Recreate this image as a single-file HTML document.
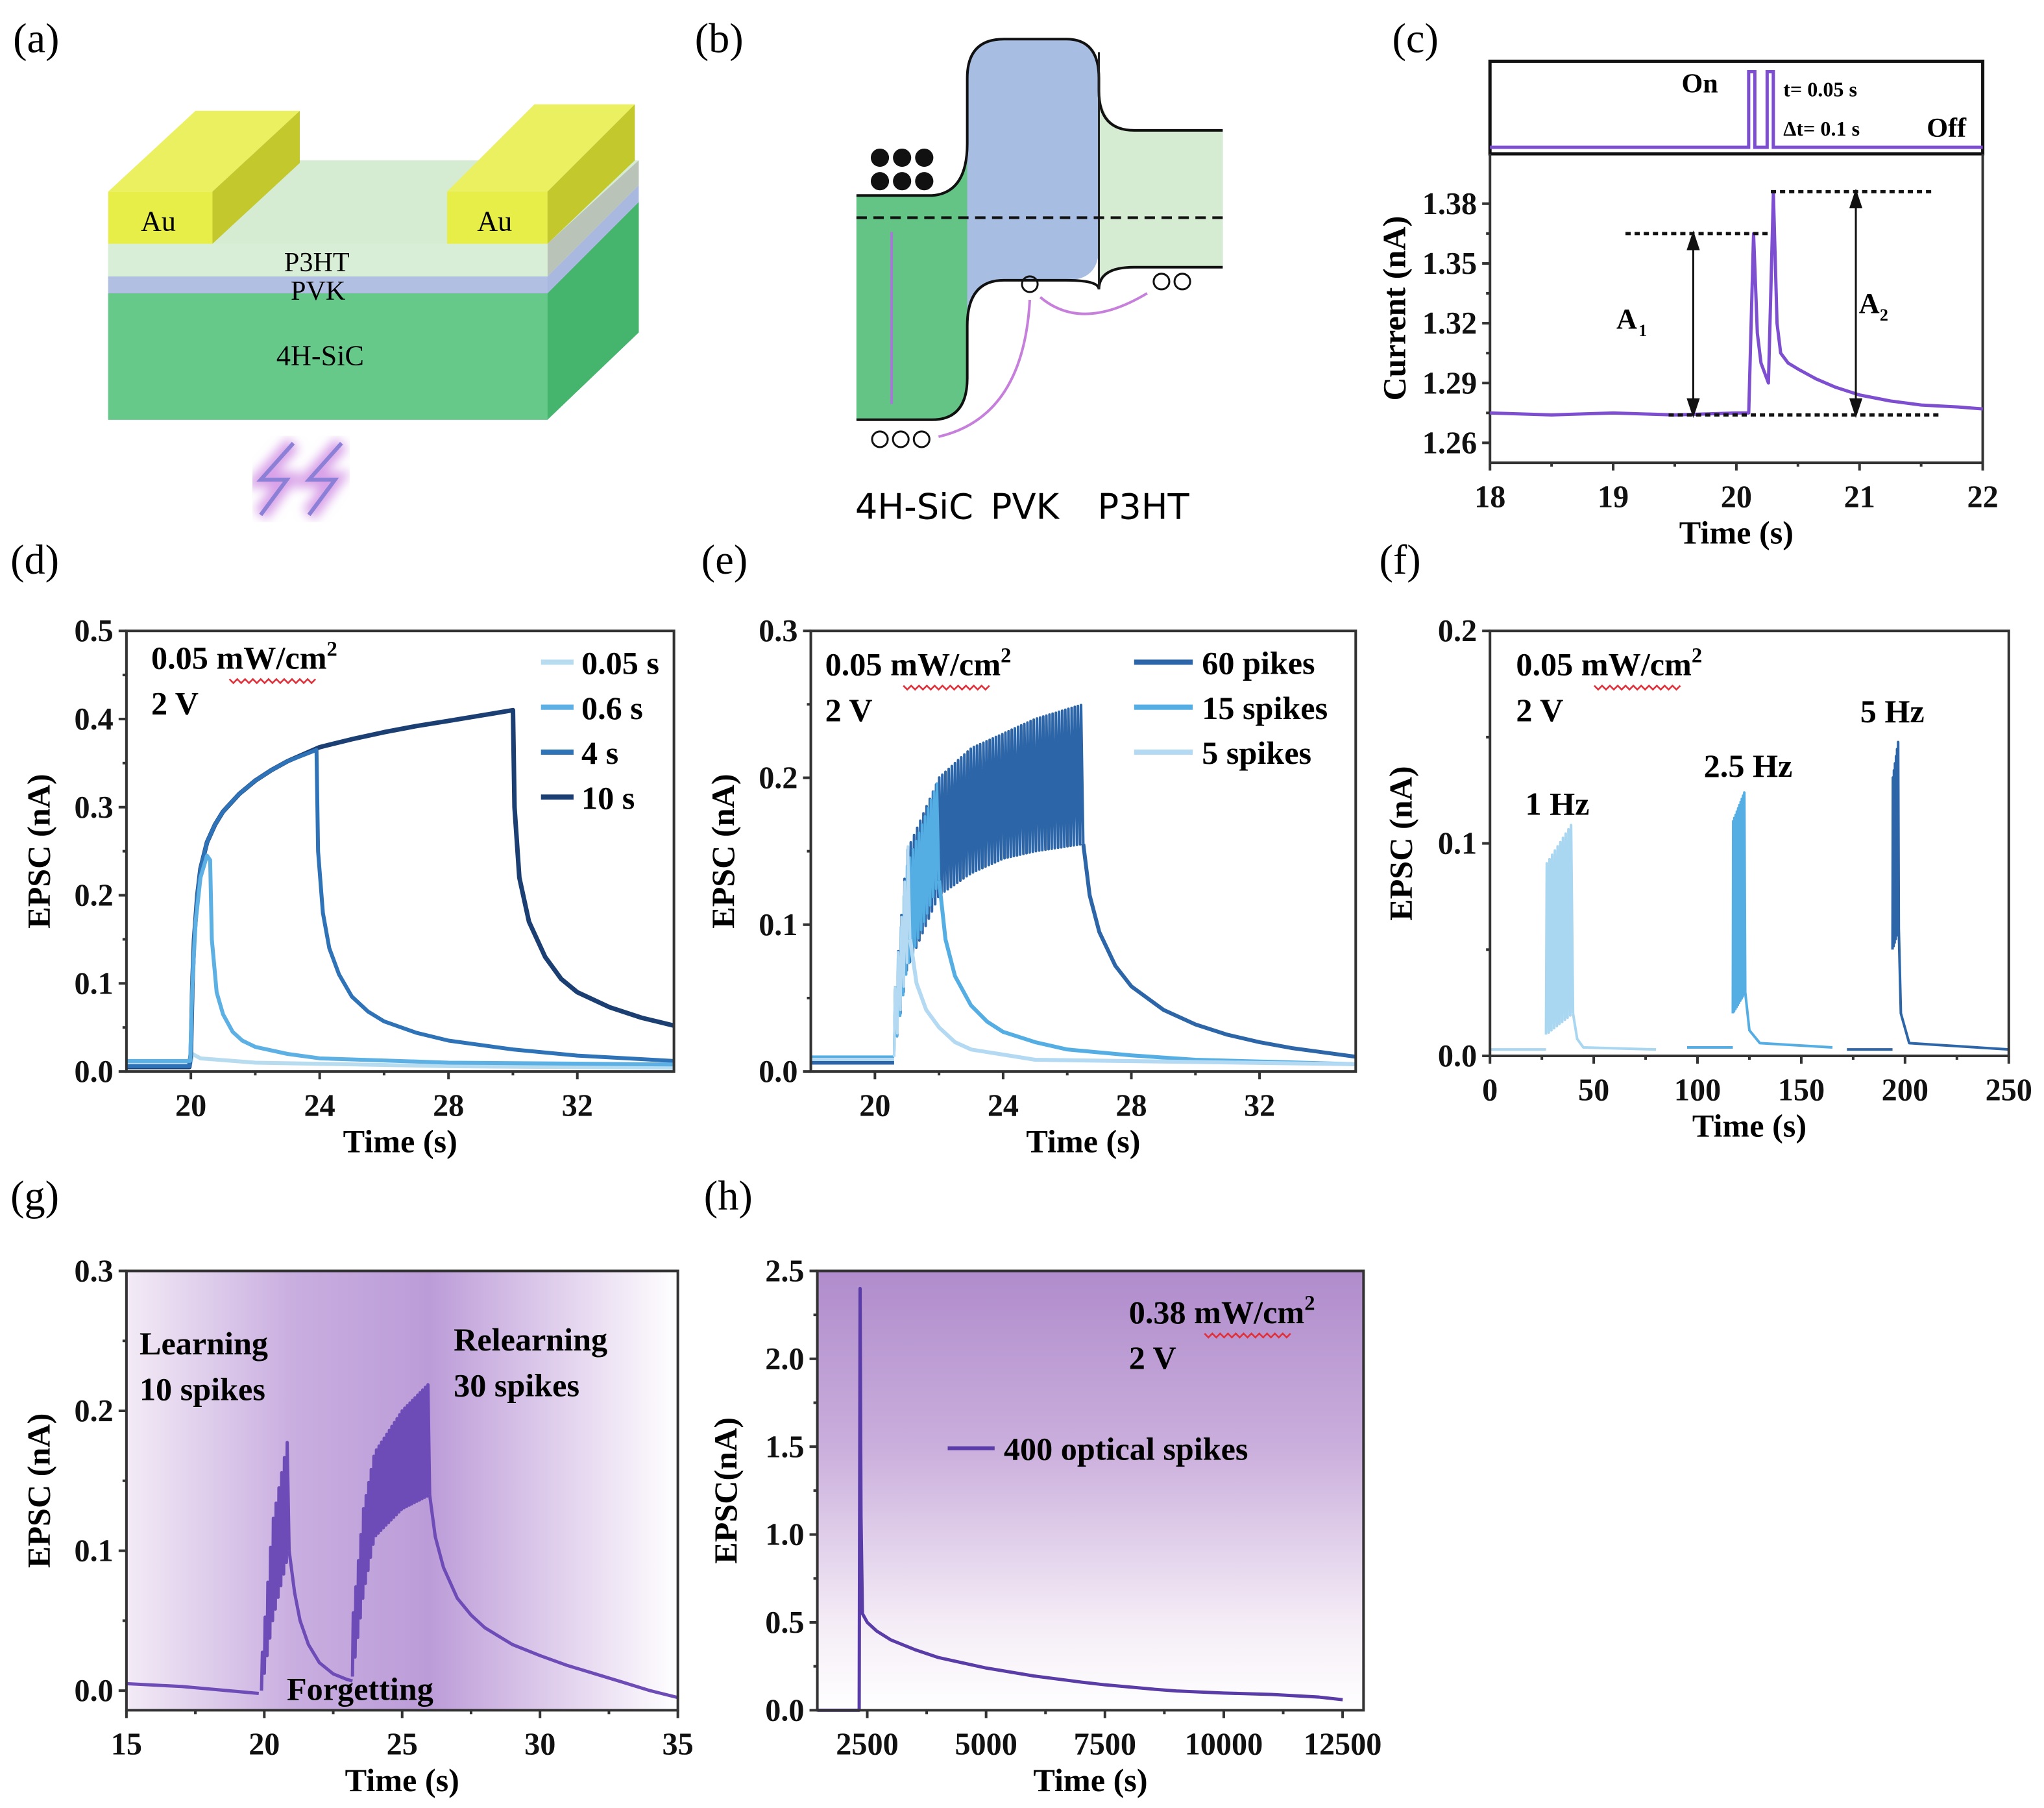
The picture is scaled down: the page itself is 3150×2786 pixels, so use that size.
<!DOCTYPE html>
<html><head><meta charset="utf-8"><style>
html,body{margin:0;padding:0;background:#fff;}
svg{display:block;}
text{font-family:"Liberation Serif",serif;}
</style></head><body>
<svg id="fig" xmlns="http://www.w3.org/2000/svg" width="3150" height="2786" viewBox="0 0 1568 1387" preserveAspectRatio="none">
<defs>
<linearGradient id="gbg" x1="0" x2="1" y1="0" y2="0">
<stop offset="0" stop-color="#f3ebf6"/><stop offset="0.3" stop-color="#c9aee0"/><stop offset="0.55" stop-color="#bc9cd8"/><stop offset="0.8" stop-color="#e3d3ee"/><stop offset="1" stop-color="#ffffff"/></linearGradient>
<linearGradient id="hbg" x1="0" x2="0" y1="0" y2="1">
<stop offset="0" stop-color="#b08ccc"/><stop offset="0.4" stop-color="#caaedc"/><stop offset="0.8" stop-color="#f4ecf6"/><stop offset="1" stop-color="#ffffff"/></linearGradient>
<filter id="glow"><feGaussianBlur stdDeviation="4"/></filter>
</defs>

<g font-size="32">
<text x="10" y="40">(a)</text>
<text x="533" y="40">(b)</text>
<text x="1068" y="40">(c)</text>
<text x="8" y="440">(d)</text>
<text x="538" y="440">(e)</text>
<text x="1058" y="440">(f)</text>
<text x="8" y="928">(g)</text>
<text x="540" y="928">(h)</text>
</g>

<g>
<polygon points="83,225 420,225 490,155 490,255 420,322 83,322" fill="#5fc585"/>
<polygon points="420,225 490,155 490,255 420,322" fill="#45b46c"/>
<rect x="83" y="225" width="337" height="97" fill="#66c98a"/>
<polygon points="83,212 420,212 490,142 490,155 420,225 83,225" fill="#a9b8df"/>
<rect x="83" y="212" width="337" height="13" fill="#b0bfe2"/>
<polygon points="163,123 420,123 490,123 490,142 420,212 83,212 83,187 163,187" fill="#d6ecd2"/>
<polygon points="420,187 490,123 490,142 420,212" fill="#b9c3b8"/>
<rect x="83" y="187" width="337" height="25" fill="#d8eed6"/>
<polygon points="83,147 163,147 230,85 150,85" fill="#eaf060"/>
<rect x="83" y="147" width="80" height="40" fill="#e8ee48"/>
<polygon points="163,147 230,85 230,125 163,187" fill="#c3c82c"/>
<polygon points="343,147 420,147 487,80 410,80" fill="#eaf060"/>
<rect x="343" y="147" width="77" height="40" fill="#e8ee48"/>
<polygon points="420,147 487,80 487,123 420,187" fill="#c3c82c"/>
<text x="108" y="177" font-size="22">Au</text>
<text x="366" y="177" font-size="22">Au</text>
<text x="218" y="208" font-size="21">P3HT</text>
<text x="223" y="230" font-size="21">PVK</text>
<text x="212" y="280" font-size="22">4H-SiC</text>
<g>
<path d="M225,340 L200,368 L220,368 L200,395 M262,340 L237,368 L257,368 L237,395" stroke="#d8a0e8" stroke-width="12" fill="none" filter="url(#glow)"/>
<path d="M225,340 L200,368 L220,368 L200,395 M262,340 L237,368 L257,368 L237,395" stroke="#8b7fd6" stroke-width="3" fill="none"/>
</g>
</g>

<g>
<path d="M657,150 L715,150 Q742,148 742,110 L742,60 Q742,30 770,30 L818,30 Q843,30 843,60 L843,70 Q843,100 870,100 L938,100 L938,205 L870,205 Q843,205 843,222 L843,190 Q843,215 818,215 L770,215 Q742,215 742,250 L742,290 Q742,322 715,322 L657,322 Z" fill="#a7bde2"/>
<path d="M657,150 L715,150 Q742,148 742,110 L742,290 Q742,322 715,322 L657,322 Z" fill="#63c485"/>
<path d="M843,60 Q843,100 870,100 L938,100 L938,205 L870,205 Q843,205 843,222 Z" fill="#d6ecd2"/>
<path d="M657,150 L715,150 Q742,148 742,110 L742,60 Q742,30 770,30 L818,30 Q843,30 843,60 L843,70 Q843,100 870,100 L938,100" fill="none" stroke="#111" stroke-width="2"/>
<path d="M657,322 L715,322 Q742,322 742,290 L742,250 Q742,215 770,215 L818,215 Q843,215 843,222 L843,222 Q843,205 870,205 L938,205" fill="none" stroke="#111" stroke-width="2"/>
<line x1="843" y1="40" x2="843" y2="222" stroke="#222" stroke-width="1.5"/>
<line x1="657" y1="167" x2="938" y2="167" stroke="#111" stroke-width="2" stroke-dasharray="8,5"/>
<line x1="684" y1="178" x2="684" y2="310" stroke="#a779d6" stroke-width="2"/>
<g fill="#111"><circle cx="675" cy="121" r="7"/><circle cx="692" cy="121" r="7"/><circle cx="709" cy="121" r="7"/><circle cx="675" cy="139" r="7"/><circle cx="692" cy="139" r="7"/><circle cx="709" cy="139" r="7"/></g>
<g fill="none" stroke="#111" stroke-width="1.5"><circle cx="675" cy="337" r="6"/><circle cx="691" cy="337" r="6"/><circle cx="707" cy="337" r="6"/><circle cx="790" cy="218" r="6"/><circle cx="891" cy="216" r="6"/><circle cx="907" cy="216" r="6"/></g>
<path d="M720,335 Q785,320 790,230" fill="none" stroke="#c77fdc" stroke-width="2"/>
<path d="M798,228 Q830,255 880,225" fill="none" stroke="#c77fdc" stroke-width="2"/>
<text x="656" y="398" font-size="27" style="font-family:'DejaVu Sans',sans-serif">4H-SiC</text>
<text x="760" y="398" font-size="27" style="font-family:'DejaVu Sans',sans-serif">PVK</text>
<text x="842" y="398" font-size="27" style="font-family:'DejaVu Sans',sans-serif">P3HT</text>
</g>

<g id="charts"></g>
</svg>
<script>
// ---------- data ----------
// (c)
const cT=[18,18.5,19,19.5,20,20.1,20.14,20.17,20.2,20.26,20.3,20.33,20.36,20.42,20.5,20.65,20.8,21,21.25,21.5,21.8,22];
const cV=[1.275,1.274,1.275,1.274,1.275,1.275,1.365,1.315,1.300,1.290,1.385,1.320,1.305,1.300,1.297,1.292,1.288,1.284,1.281,1.279,1.278,1.277];
const cPulseOn=[20.1,20.25];
const cYTicks=[1.26,1.29,1.32,1.35,1.38];
const cXTicks=[18,19,20,21,22];
// (d)
const d10T=[18,19.95,20,20.05,20.1,20.2,20.3,20.5,20.75,21,21.5,22,22.5,23,24,25,26,27,28,29,30,30.05,30.2,30.5,31,31.5,32,33,34,35];
const d10V=[0.005,0.005,0.02,0.10,0.15,0.20,0.23,0.26,0.28,0.295,0.315,0.33,0.342,0.352,0.368,0.377,0.385,0.392,0.398,0.404,0.41,0.30,0.22,0.17,0.13,0.105,0.09,0.073,0.061,0.052];
const d4T=[18,19.95,20,20.05,20.1,20.2,20.3,20.5,20.75,21,21.5,22,22.5,23,23.9,23.95,24.1,24.3,24.6,25,25.5,26,27,28,30,32,35];
const d4V=[0.006,0.006,0.02,0.10,0.15,0.20,0.23,0.26,0.28,0.295,0.315,0.33,0.342,0.352,0.365,0.25,0.18,0.14,0.11,0.085,0.068,0.057,0.044,0.035,0.025,0.018,0.012];
const d06T=[18,19.98,20.05,20.15,20.3,20.5,20.6,20.65,20.8,21,21.3,21.6,22,23,24,28,35];
const d06V=[0.012,0.012,0.10,0.17,0.22,0.245,0.24,0.15,0.09,0.065,0.045,0.035,0.028,0.02,0.015,0.010,0.008];
const d005T=[18,20,20.05,20.3,22,28,35];
const d005V=[0.010,0.010,0.020,0.015,0.010,0.006,0.004];
const dLegend=["0.05 s","0.6 s","4 s","10 s"];
// (e)
const e60Env=[[20.6,0.05,0.01],[21,0.15,0.07],[22,0.20,0.12],[23,0.22,0.135],[24,0.23,0.145],[25,0.24,0.15],[26.5,0.25,0.155]];
const e60Dec=[[26.5,0.155],[26.7,0.12],[27,0.095],[27.5,0.072],[28,0.058],[29,0.042],[30,0.032],[31,0.025],[32,0.02],[33,0.016],[35,0.01]];
const e15Env=[[20.6,0.05,0.01],[21,0.14,0.07],[22,0.20,0.13]];
const e15Dec=[[22,0.13],[22.2,0.09],[22.5,0.065],[23,0.045],[23.5,0.034],[24,0.027],[25,0.02],[26,0.015],[28,0.011],[30,0.008],[35,0.005]];
const e5Env=[[20.6,0.05,0.01],[21.1,0.17,0.09]];
const e5Dec=[[21.1,0.09],[21.3,0.06],[21.6,0.042],[22,0.03],[22.5,0.02],[23,0.015],[25,0.008],[35,0.005]];
const eLegend=["60 pikes","15 spikes","5 spikes"];
// (f)
const f1Env=[[27,0.09,0.01],[40,0.11,0.02]];
const f1Base=[[0,0.003],[27,0.003]],f1Dec=[[40,0.02],[42,0.008],[45,0.004],[80,0.003]];
const f25Env=[[117,0.11,0.02],[123,0.125,0.03]];
const f25Base=[[95,0.004],[117,0.004]],f25Dec=[[123,0.03],[125,0.012],[130,0.006],[165,0.004]];
const f5Env=[[194,0.13,0.05],[197,0.15,0.06]];
const f5Base=[[172,0.003],[194,0.003]],f5Dec=[[197,0.06],[198,0.02],[202,0.006],[250,0.003]];
// (g)
const gBase=[[15,0.005],[17,0.003],[19.8,-0.002]];
const gLearnEnv=[[19.9,0.02,0.0],[20.3,0.12,0.05],[20.9,0.185,0.10]];
const gDec1=[[20.9,0.10],[21.1,0.07],[21.3,0.05],[21.6,0.033],[22,0.02],[22.5,0.012],[23,0.008],[23.2,0.007]];
const gRelearnEnv=[[23.2,0.05,0.01],[23.6,0.13,0.07],[24,0.17,0.11],[25,0.20,0.13],[26,0.22,0.14]];
const gDec2=[[26,0.14],[26.2,0.11],[26.5,0.088],[27,0.066],[27.5,0.054],[28,0.045],[29,0.033],[30,0.025],[31,0.018],[32,0.012],[33,0.006],[34,0.0],[35,-0.005]];
// (h)
const hT=[1450,2330,2350,2370,2400,2500,2700,3000,3500,4000,4500,5000,6000,7000,7500,8500,9000,10000,11000,12000,12500];
const hV=[0.0,0.0,2.40,1.10,0.55,0.50,0.45,0.40,0.345,0.30,0.27,0.24,0.195,0.16,0.145,0.12,0.11,0.098,0.09,0.075,0.06];

// ---------- helpers ----------
const NS="http://www.w3.org/2000/svg";
const root=document.getElementById('charts');
function mk(tag,attrs,parent,text){const e=document.createElementNS(NS,tag);for(const k in attrs)e.setAttribute(k,attrs[k]);if(text!==undefined)e.textContent=text;(parent||root).appendChild(e);return e;}
function axis(cfg){
  const g=mk('g',{});
  
  
  const sx=v=>cfg.x0+(v-cfg.xmin)/(cfg.xmax-cfg.xmin)*(cfg.x1-cfg.x0);
  const sy=v=>cfg.y1-(v-cfg.ymin)/(cfg.ymax-cfg.ymin)*(cfg.y1-cfg.y0);
  return {g,sx,sy,cfg};
}
function frame(A,xt,yt,xf,yf,xtitle,ytitle){
  const c=A.cfg,g=A.g;
  const tk=mk('g',{stroke:'#333','stroke-width':2},g);
  xt.forEach((v,i)=>{const x=A.sx(v);mk('line',{x1:x,x2:x,y1:c.y1,y2:c.y1+6},tk);
    if(i<xt.length-1){const xm=A.sx((v+xt[i+1])/2);mk('line',{x1:xm,x2:xm,y1:c.y1,y2:c.y1+3},tk);}
    const t=mk('text',{x:x,y:c.y1+34,'font-size':24,'font-weight':'bold','text-anchor':'middle',stroke:'none',fill:'#111'},g,xf(v));
    });
  yt.forEach((v,i)=>{const y=A.sy(v);mk('line',{x1:c.x0-6,x2:c.x0,y1:y,y2:y},tk);
    if(i<yt.length-1){const ym=A.sy((v+yt[i+1])/2);mk('line',{x1:c.x0-3,x2:c.x0,y1:ym,y2:ym},tk);}
    const t=mk('text',{x:c.x0-10,y:y+8,'font-size':24,'font-weight':'bold','text-anchor':'end',stroke:'none',fill:'#111'},g,yf(v));
    });
  const xtl=mk('text',{x:(c.x0+c.x1)/2,y:c.y1+62,'font-size':25,'font-weight':'bold','text-anchor':'middle'},g,xtitle);
  
  const cy=(c.y0+c.y1)/2,cx=c.ytx;
  const ytl=mk('text',{x:cx,y:cy,'font-size':25,'font-weight':'bold','text-anchor':'middle',transform:`rotate(-90 ${cx} ${cy})`},g,ytitle);
  
}
function border(A){const c=A.cfg;const r=mk('rect',{x:c.x0,y:c.y0,width:c.x1-c.x0,height:c.y1-c.y0,fill:'none',stroke:'#333','stroke-width':2},A.g);
  }
function line(A,T,V,color,w,name){const pts=T.map((t,i)=>A.sx(t).toFixed(1)+','+A.sy(V[i]).toFixed(1)).join(' ');
  const p=mk('polyline',{points:pts,fill:'none',stroke:color,'stroke-width':w||3,'stroke-linejoin':'round'},A.g);
  return p;}
function pairs(A,P,color,w,name){return line(A,P.map(p=>p[0]),P.map(p=>p[1]),color,w,name);}
function spikes(A,env,n,color,w,name){
  const t0=env[0][0],t1=env[env.length-1][0];const T=[],V=[];
  const interp=(t,k)=>{for(let i=0;i<env.length-1;i++){if(t<=env[i+1][0]){const f=(t-env[i][0])/(env[i+1][0]-env[i][0]);return env[i][k]+f*(env[i+1][k]-env[i][k]);}}return env[env.length-1][k];};
  for(let i=0;i<=n;i++){const t=t0+(t1-t0)*i/n;T.push(t);V.push(interp(t,2));if(i<n){const tp=t+(t1-t0)/n*0.3;T.push(tp);V.push(interp(tp,1));}}
  return line(A,T,V,color,w,name);
}
function txt(g,x,y,s,size,name,extra){const t=mk('text',Object.assign({x,y,'font-size':size,'font-weight':'bold'},extra||{}),g);
  
  if(Array.isArray(s)){s.forEach(p=>{mk('tspan',p.sup?{'font-size':size*0.65,dy:-10}:{},t,p.t);});}else t.textContent=s;return t;}
function squiggle(g,x,y,w){let d=`M${x},${y}`;for(let i=0;i<w;i+=6)d+=` l3,3 l3,-3`;mk('path',{d,fill:'none',stroke:'#e0303a','stroke-width':1.3},g);}
function cond(g,x,y,p){txt(g,x,y,[{t:p+' mW/cm'},{t:'2',sup:true}],25,'condition-intensity');squiggle(g,x+(p.length*12.5)+10,y+8,62);txt(g,x,y+35,'2 V',25,'condition-voltage');}

// ---------- (c) ----------
{
 const A=axis({name:'chart-c',x0:1143,x1:1521,y0:118,y1:355,xmin:18,xmax:22,ymin:1.25,ymax:1.405,ytx:1078});
 const tb=mk('g',{},A.g);
 mk('rect',{x:1143,y:47,width:378,height:71,fill:'none',stroke:'#111','stroke-width':2.5},tb);
 const yOff=113,yOn=55;const PT=[18],PV=[yOff];
 cPulseOn.forEach(t=>{PT.push(t,t,t+0.05,t+0.05);PV.push(yOff,yOn,yOn,yOff);});PT.push(22);PV.push(yOff);
 const pp=mk('polyline',{points:PT.map((t,i)=>A.sx(t)+','+PV[i]).join(' '),fill:'none',stroke:'#7d4fd0','stroke-width':2.5},tb);
 
 txt(tb,1290,71,'On',21,'on-label');txt(tb,1368,74,'t= 0.05 s',16,'pulse-width');txt(tb,1368,104,'Δt= 0.1 s',16,'pulse-interval');txt(tb,1478,105,'Off',21,'off-label');
 mk('line',{x1:1143,y1:118,x2:1521,y2:118,stroke:'#111','stroke-width':2.5},A.g);
 mk('line',{x1:1143,y1:118,x2:1143,y2:355,stroke:'#333','stroke-width':2},A.g);
 mk('line',{x1:1143,y1:355,x2:1521,y2:355,stroke:'#333','stroke-width':2},A.g);
 mk('line',{x1:1521,y1:118,x2:1521,y2:355,stroke:'#333','stroke-width':2},A.g);
 frame(A,cXTicks,cYTicks,v=>String(v),v=>v.toFixed(2),'Time (s)','Current (nA)');
 line(A,cT,cV,'#7d4fd0',2.5,'current-trace');
 const a=mk('g',{stroke:'#111','stroke-width':2.5,'stroke-dasharray':'4,3'},A.g);
 mk('line',{x1:A.sx(19.1),x2:A.sx(20.28),y1:A.sy(1.365),y2:A.sy(1.365)},a);
 mk('line',{x1:A.sx(20.28),x2:A.sx(21.6),y1:A.sy(1.386),y2:A.sy(1.386)},a);
 mk('line',{x1:A.sx(19.45),x2:A.sx(21.65),y1:A.sy(1.274),y2:A.sy(1.274)},a);
 const ar=mk('g',{stroke:'#111','stroke-width':1.5,fill:'#111'},A.g);
 [[19.65,1.365],[20.97,1.386]].forEach(([t,v])=>{const x=A.sx(t),ya=A.sy(v),yb=A.sy(1.274);
  mk('line',{x1:x,x2:x,y1:ya+6,y2:yb-6},ar);mk('polygon',{points:`${x-4},${ya+12} ${x+4},${ya+12} ${x},${ya}`},ar);mk('polygon',{points:`${x-4},${yb-12} ${x+4},${yb-12} ${x},${yb}`},ar);});
 txt(A.g,1240,252,[{t:'A'}],22,'a1-label');txt(A.g,1257,258,'1',13,'a1-sub');
 txt(A.g,1426,240,'A',22,'a2-label');txt(A.g,1442,246,'2',13,'a2-sub');
}
// ---------- (d) ----------
{
 const A=axis({name:'chart-d',x0:97,x1:517,y0:484,y1:822,xmin:18,xmax:35,ymin:0,ymax:0.5,ytx:38});
 frame(A,[20,24,28,32],[0,0.1,0.2,0.3,0.4,0.5],v=>String(v),v=>v.toFixed(1),'Time (s)','EPSC (nA)');
 const cols=['#b7dcf0','#5cb0e3','#2e72b8','#1c3f73'];
 line(A,d005T,d005V,cols[0],3,'series-0.05s');
 line(A,d10T,d10V,cols[3],3.5,'series-10s');
 line(A,d4T,d4V,cols[2],3,'series-4s');
 line(A,d06T,d06V,cols[1],3,'series-0.6s');
 border(A);
 cond(A.g,116,513,'0.05');
 dLegend.forEach((s,i)=>{const y=508+i*34.5;const l=mk('line',{x1:415,x2:440,y1:y,y2:y,stroke:cols[i],'stroke-width':4},A.g);txt(A.g,446,y+9,s,25,'legend-entry');});
}
// ---------- (e) ----------
{
 const A=axis({name:'chart-e',x0:622,x1:1040,y0:484,y1:822,xmin:18,xmax:35,ymin:0,ymax:0.3,ytx:563});
 frame(A,[20,24,28,32],[0,0.1,0.2,0.3],v=>String(v),v=>v.toFixed(1),'Time (s)','EPSC (nA)');
 const cols=['#2c66a8','#55aee3','#b3daf2'];
 pairs(A,[[18,0.006],[20.6,0.006]],cols[0],3,'series-60-baseline');
 spikes(A,e60Env,60,cols[0],2,'series-60-spikes');pairs(A,e60Dec,cols[0],3,'series-60-decay');
 pairs(A,[[18,0.01],[20.6,0.01]],cols[1],2,'series-15-baseline');
 spikes(A,e15Env,15,cols[1],2,'series-15-spikes');pairs(A,e15Dec,cols[1],3,'series-15-decay');
 pairs(A,[[18,0.008],[20.6,0.008]],cols[2],2,'series-5-baseline');
 spikes(A,e5Env,5,cols[2],2,'series-5-spikes');pairs(A,e5Dec,cols[2],3,'series-5-decay');
 border(A);
 cond(A.g,633,518,'0.05');
 eLegend.forEach((s,i)=>{const y=508+i*34.5;const l=mk('line',{x1:870,x2:915,y1:y,y2:y,stroke:cols[i],'stroke-width':4},A.g);txt(A.g,922,y+9,s,25,'legend-entry');});
}
// ---------- (f) ----------
{
 const A=axis({name:'chart-f',x0:1143,x1:1541,y0:484,y1:810,xmin:0,xmax:250,ymin:0,ymax:0.2,ytx:1083});
 frame(A,[0,50,100,150,200,250],[0,0.1,0.2],v=>String(v),v=>v.toFixed(1),'Time (s)','EPSC (nA)');
 const cols=['#a9d6f0','#55aee3','#2c66a8'];
 pairs(A,f1Base,cols[0],2,'series-1hz-baseline');spikes(A,f1Env,10,cols[0],2,'series-1hz-spikes');pairs(A,f1Dec,cols[0],2,'series-1hz-decay');
 pairs(A,f25Base,cols[1],2,'series-2.5hz-baseline');spikes(A,f25Env,10,cols[1],2,'series-2.5hz-spikes');pairs(A,f25Dec,cols[1],2,'series-2.5hz-decay');
 pairs(A,f5Base,cols[2],2,'series-5hz-baseline');spikes(A,f5Env,6,cols[2],2,'series-5hz-spikes');pairs(A,f5Dec,cols[2],2,'series-5hz-decay');
 border(A);
 cond(A.g,1163,518,'0.05');
 txt(A.g,1170,625,'1 Hz',25,'label-1hz');txt(A.g,1307,596,'2.5 Hz',25,'label-2.5hz');txt(A.g,1427,554,'5 Hz',25,'label-5hz');
}
// ---------- (g) ----------
{
 const A=axis({name:'chart-g',x0:97,x1:520,y0:975,y1:1312,xmin:15,xmax:35,ymin:-0.014,ymax:0.3,ytx:38});
 const bg=mk('rect',{x:97,y:975,width:423,height:337,fill:'url(#gbg)'},A.g);
 frame(A,[15,20,25,30,35],[0,0.1,0.2,0.3],v=>String(v),v=>v.toFixed(1),'Time (s)','EPSC (nA)');
 const col='#6e4cb8';
 pairs(A,gBase,col,2.5,'baseline');
 spikes(A,gLearnEnv,10,col,2.5,'learning-spikes');pairs(A,gDec1,col,2.5,'forgetting-decay');
 spikes(A,gRelearnEnv,30,col,2.5,'relearning-spikes');pairs(A,gDec2,col,2.5,'relearning-decay');
 border(A);
 txt(A.g,107,1039,'Learning',25,'learning-label');txt(A.g,107,1074,'10 spikes',25,'learning-count');
 txt(A.g,348,1036,'Relearning',25,'relearning-label');txt(A.g,348,1071,'30 spikes',25,'relearning-count');
 txt(A.g,220,1304,'Forgetting',25,'forgetting-label');
}
// ---------- (h) ----------
{
 const A=axis({name:'chart-h',x0:627,x1:1046,y0:975,y1:1312,xmin:1450,xmax:12940,ymin:0,ymax:2.5,ytx:565});
 const bg=mk('rect',{x:627,y:975,width:419,height:337,fill:'url(#hbg)'},A.g);
 frame(A,[2500,5000,7500,10000,12500],[0,0.5,1,1.5,2,2.5],v=>String(v),v=>v.toFixed(1),'Time (s)','EPSC(nA)');
 line(A,hT,hV,'#5a3ca8',2.5,'epsc-400-spikes');
 border(A);
 txt(A.g,866,1015,[{t:'0.38 mW/cm'},{t:'2',sup:true}],25,'condition-intensity');squiggle(A.g,924,1023,62);
 txt(A.g,866,1050,'2 V',25,'condition-voltage');
 const l=mk('line',{x1:727,x2:763,y1:1111,y2:1111,stroke:'#5a3ca8','stroke-width':3},A.g);
 txt(A.g,770,1120,'400 optical spikes',25,'legend-entry');
}
</script>
</body></html>
